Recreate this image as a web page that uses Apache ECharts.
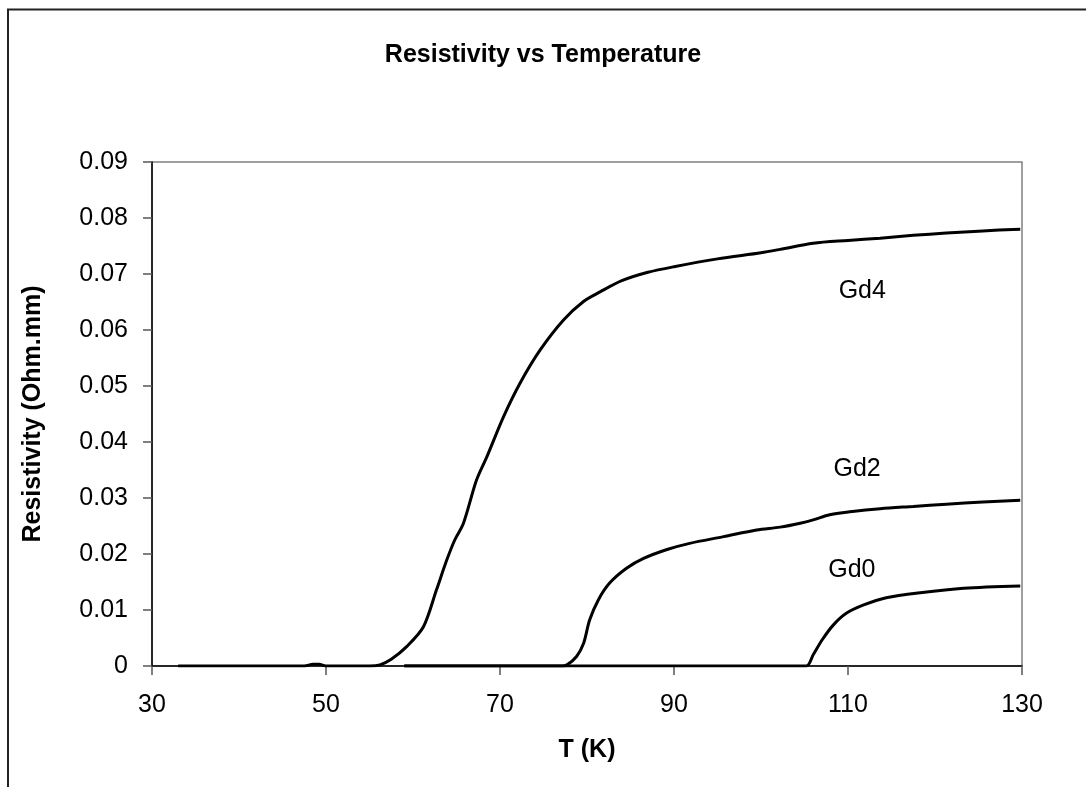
<!DOCTYPE html>
<html>
<head>
<meta charset="utf-8">
<script src="https://cdn.jsdelivr.net/npm/echarts@6/dist/echarts.min.js"></script>
<style>html,body{margin:0;padding:0;background:#fff;}#c{width:1086px;height:787px;}</style>
</head>
<body>
<div id="c"></div>
<script>
// Data
const gd4T = [33, 40, 47.5, 48.5, 49.2, 50, 55, 56.2, 57.5, 59.3, 61.2, 62.7, 63.9, 64.8, 65.8, 67.3, 68.5, 70.4, 72.3, 74.6, 77.3, 79.6, 81.5, 84, 87, 90, 95, 100, 102.2, 106, 110, 113.7, 117.5, 121.3, 125.5, 129.8];
const gd4V = [0, 0, 0, 0.0003, 0.0003, 0, 0, 0.0002, 0.0012, 0.0035, 0.007, 0.0136, 0.019, 0.0225, 0.0255, 0.0332, 0.0374, 0.0445, 0.0505, 0.0564, 0.0618, 0.0651, 0.0668, 0.0688, 0.0703, 0.0713, 0.0727, 0.0738, 0.0744, 0.0755, 0.076, 0.0764, 0.0769, 0.0773, 0.0777, 0.078];
const gd2T = [59, 70, 77.1, 77.7, 78.8, 79.6, 80.3, 81.3, 82.6, 84.5, 86.5, 89.2, 91.8, 95.7, 99.5, 102.2, 104.5, 106, 107.9, 110.5, 113.7, 117.5, 121.3, 125.5, 129.8];
const gd2V = [0, 0, 0, 0.0002, 0.0017, 0.004, 0.0082, 0.0118, 0.0148, 0.0174, 0.0192, 0.0208, 0.0219, 0.0231, 0.0243, 0.0248, 0.0255, 0.0261, 0.027, 0.0276, 0.0281, 0.0285, 0.0289, 0.0293, 0.0296];
const gd0T = [59, 80, 100, 105.2, 106, 107, 108.3, 109.8, 111.8, 114.4, 118.3, 123.3, 129.8];
const gd0V = [0, 0, 0, 0, 0.002, 0.0046, 0.0073, 0.0094, 0.0109, 0.0122, 0.0131, 0.0139, 0.0143];
const seriesNames = ['Gd4', 'Gd2', 'Gd0'];
const labelT = [111.7, 111.1, 110.5];
const labelV = [0.0668, 0.035, 0.017];
const xTicks = [30, 50, 70, 90, 110, 130];

const FONT = '"Liberation Sans", Arial, sans-serif';
const chart = echarts.init(document.getElementById('c'), null, {renderer: 'canvas'});
const zip = (t, v) => t.map((x, i) => [x, v[i]]);
const allData = [zip(gd4T, gd4V), zip(gd2T, gd2V), zip(gd0T, gd0V)];

const lineSeries = seriesNames.map((n, i) => ({
  name: n,
  type: 'line',
  data: allData[i],
  showSymbol: false,
  smooth: 0.3,
  lineStyle: {color: '#000', width: 3},
  z: 3 - i
}));
const labelSeries = {
  type: 'scatter',
  symbolSize: 1,
  itemStyle: {color: '#fff', opacity: 0},
  data: seriesNames.map((n, i) => ({value: [labelT[i], labelV[i]], name: n})),
  label: {show: true, position: [0, 0], align: 'center', verticalAlign: 'middle',
    formatter: p => p.name, fontFamily: FONT, fontSize: 25, color: '#000', opacity: 1,
    textBorderWidth: 0},
  silent: true,
  z: 5
};

chart.setOption({
  backgroundColor: '#fff',
  animation: false,
  title: {
    text: 'Resistivity vs Temperature',
    left: 'center',
    top: 38,
    textStyle: {fontFamily: FONT, fontSize: 25, fontWeight: 'bold', color: '#000'}
  },
  graphic: [{
    type: 'rect', silent: true,
    shape: {x: 8, y: 9.5, width: 1200, height: 900},
    style: {fill: 'none', stroke: '#222', lineWidth: 2}
  }],
  grid: {left: 152, right: 64, top: 162, bottom: 121, show: true, borderColor: '#808080', borderWidth: 1.5},
  xAxis: {
    type: 'value', min: 30, max: 130, interval: 20,
    name: 'T (K)', nameLocation: 'middle', nameGap: 72,
    nameTextStyle: {fontFamily: FONT, fontSize: 25, fontWeight: 'bold', color: '#000'},
    axisLine: {show: true, lineStyle: {color: '#000', width: 1.5}},
    axisTick: {show: true, length: 9, lineStyle: {color: '#555', width: 1.5}},
    axisLabel: {fontFamily: FONT, fontSize: 25, color: '#000', margin: 27,
      formatter: v => xTicks.includes(v) ? String(v) : ''},
    splitLine: {show: false}
  },
  yAxis: {
    type: 'value', min: 0, max: 0.09, interval: 0.01,
    name: 'Resistivity (Ohm.mm)', nameLocation: 'middle', nameGap: 106,
    nameTextStyle: {fontFamily: FONT, fontSize: 25, fontWeight: 'bold', color: '#000'},
    axisLine: {show: true, lineStyle: {color: '#000', width: 1.5}},
    axisTick: {show: true, length: 9, lineStyle: {color: '#555', width: 1.5}},
    axisLabel: {fontFamily: FONT, fontSize: 25, color: '#000', margin: 24,
      formatter: v => v === 0 ? '0' : v.toFixed(2)},
    splitLine: {show: false}
  },
  series: lineSeries.concat([labelSeries])
});
</script>
</body>
</html>
